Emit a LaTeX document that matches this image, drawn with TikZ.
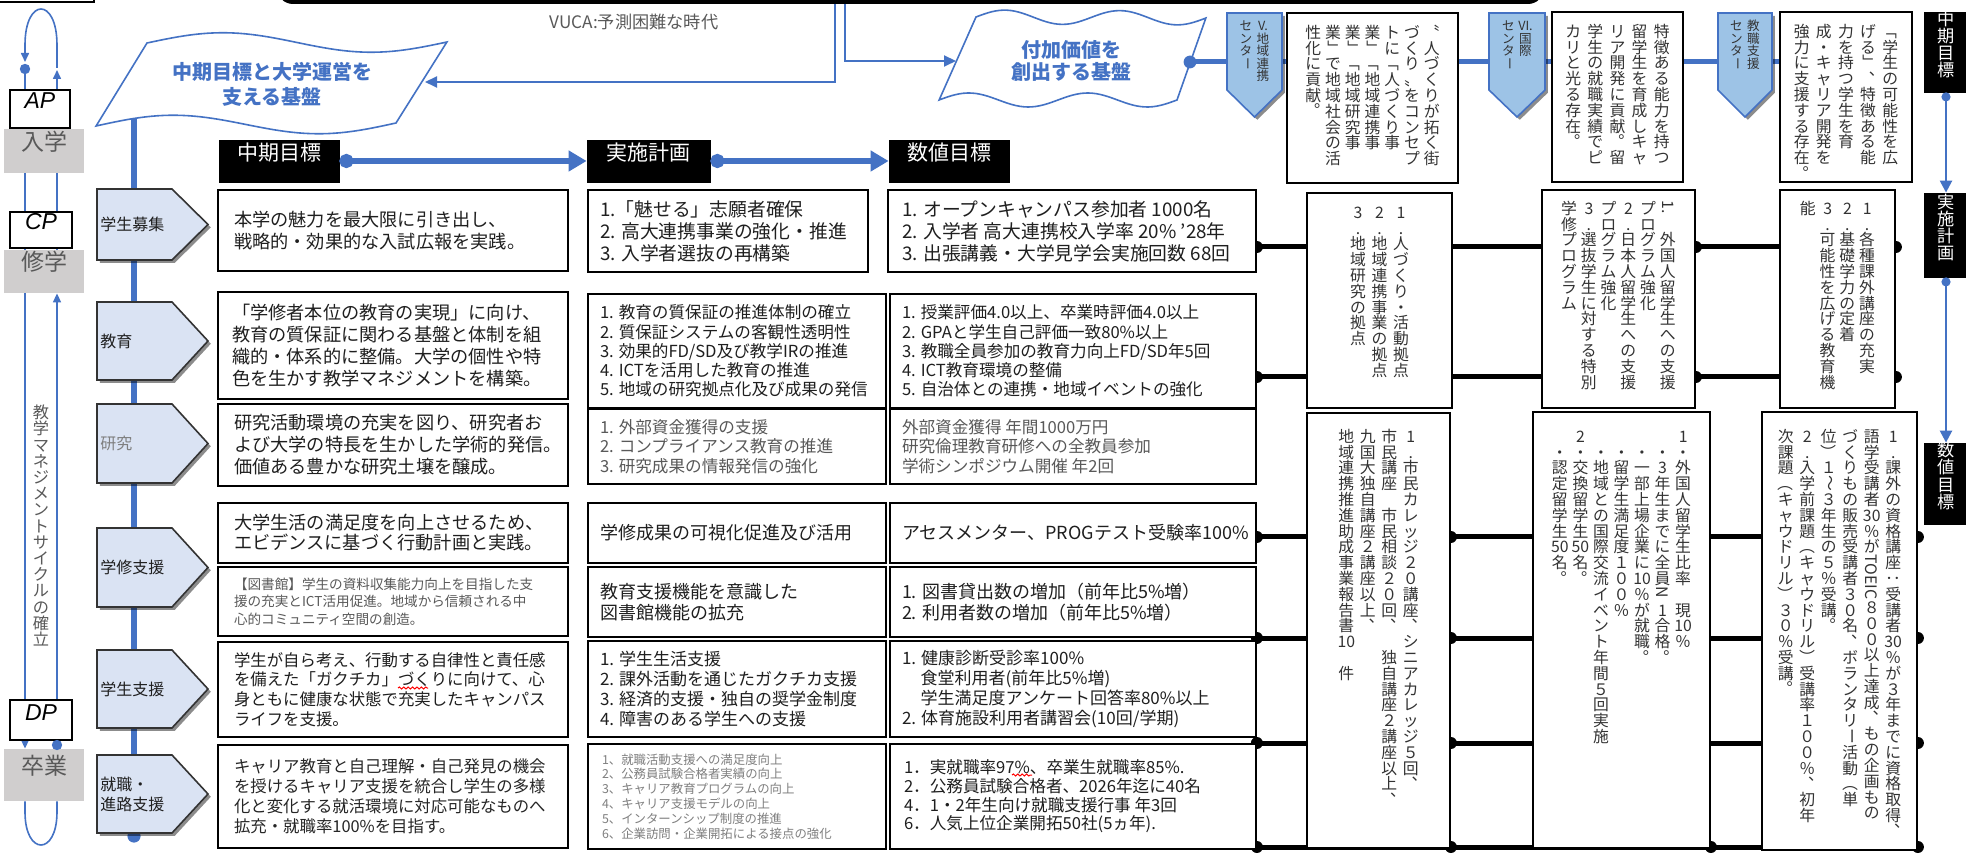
\documentclass[tikz,border=0pt]{standalone}
\usepackage{fontspec}
\setmainfont{Noto Sans CJK JP}
\newfontfamily\latf{Liberation Sans}
\usepackage{graphicx}
\usetikzlibrary{arrows.meta,shadows,fit,backgrounds,decorations.pathmorphing}

\definecolor{bl}{HTML}{4472C4}
\definecolor{pentfill}{HTML}{DAE3F3}
\definecolor{tpfill}{HTML}{9DC3E6}
\definecolor{gbox}{HTML}{D0CECE}
\definecolor{gtxt}{HTML}{595959}
\definecolor{ltxt}{HTML}{7F7F7F}
\definecolor{dtxt}{HTML}{1F1F1F}

\newcommand\fz[2]{\fontsize{#1pt}{#2pt}\selectfont}
\newcommand\vtstrut{\vrule height .88em depth .12em width 0pt}
\newcommand\vrt[1]{\raisebox{.88em}{\rotatebox{-90}{#1}}}
\newcommand\vpn[1]{\makebox[1em][l]{\raisebox{.6em}[0pt][0pt]{\kern.55em #1}}}
\newcommand\vLB{\vrt{「}}
\newcommand\vRB{\vrt{」}}
\newcommand\vLP{\vrt{（}}
\newcommand\vRP{\vrt{）}}
\newcommand\vCH{\vrt{ー}}
\newcommand\vCL{\vrt{：}}
\newcommand\vWV{\vrt{～}}
\newcommand\vTC{\vpn{、}}
\newcommand\vMR{\vpn{。}}

\ExplSyntaxOn
\tl_new:N \l_vtx_cols_tl
\cs_new_protected:Npn \vtx_cell:n #1
  { \hbox_to_wd:nn { 1em } { \hss \vtstrut #1 \hss } }
\cs_new_protected:Npn \vtx_col:n #1
  { \vbox_top:n { \offinterlineskip \tl_map_function:nN {#1} \vtx_cell:n } }
\NewDocumentCommand { \VT } { O{0.3em} m }
  {
    \tl_set:Nx \l_vtx_cols_tl { \tl_reverse_items:n {#2} }
    \hbox:n
      {
        \skip_horizontal:n { - #1 }
        \tl_map_inline:Nn \l_vtx_cols_tl
          { \skip_horizontal:n {#1} \vtx_col:n {##1} }
      }
  }
\ExplSyntaxOff

\newcommand\rowpent[4]{%
  \path[pent] (97,#2) -- (172,#2) -- (208,{(#2+#3)/2}) -- (172,#3) -- (97,#3) -- cycle;
  \node[plab] (#1) at (100,{(#2+#3)/2}) {#4};}
\newcommand\toppent[4]{%
  \path[tpent] (#2,13) -- (#3,13) -- (#3,90) -- ({(#2+#3)/2},117) -- (#2,90) -- cycle;
  \node[vt, font=\fz{6.3}{6.3}, text=black!80] (#1) at ({(#2+#3)/2},19) {\VT[0.35em]{#4}};}

\begin{document}
\begin{tikzpicture}[x=0.5pt,y=-0.5pt,
  box/.style={draw=black, line width=0.9pt, fill=white, inner sep=0pt},
  txt/.style={inner sep=0pt, outer sep=0pt, anchor=west, align=left, text=dtxt},
  hdr/.style={fill=black, draw=black, inner sep=0pt, text=white, font=\fz{10.5}{12}},
  gbx/.style={fill=gbox, draw=none, inner sep=0pt, text=gtxt, font=\fz{11.5}{13}},
  wbx/.style={draw=black, line width=0.9pt, fill=white, inner sep=0pt, font=\latf\itshape\fz{11.5}{13}},
  shd/.style={drop shadow={shadow xshift=1.4pt, shadow yshift=-1.4pt, opacity=0.45, fill=black}},
  pent/.style={draw=black!80, line width=0.8pt, fill=pentfill, shd},
  tpent/.style={draw=bl, line width=0.8pt, fill=tpfill, shd},
  plab/.style={inner sep=0pt, anchor=west, font=\fz{8}{10}, align=left, text=dtxt},
  flag/.style={draw=bl, line width=0.8pt, fill=white},
  flagtxt/.style={text=bl, font=\bfseries\fz{10}{12.5}, align=center, inner sep=0pt},
  bthin/.style={draw=bl, line width=1pt},
  conn/.style={draw=black, line width=2.5pt},
  cyc/.style={draw=bl, line width=0.8pt},
  ctip/.style={-{Triangle[length=4.5pt,width=4pt]}},
  vt/.style={inner sep=0pt, anchor=north, text=black!80, font=\fz{7.9}{7.9}},
  wavy/.style={draw=red, line width=0.5pt, decorate, decoration={snake, amplitude=0.5pt, segment length=2.2pt}},
]
\useasboundingbox (0,0) rectangle (1966,855);
\begin{scope}[on background layer]
  \fill[white] (-4,-4) rectangle (1970,859);
\end{scope}

% ---------- top bar, frame, VUCA
\fill[black, rounded corners=8pt] (277,-40) rectangle (1544,4);
\draw[black, line width=1.4pt] (-10,-30) rectangle (94,2);
\node[font=\fz{8.6}{9}, text=gtxt, inner sep=0pt] (vuca) at (634,22) {VUCA:予測困難な時代};
\coordinate (barA) at (835,4);
\coordinate (barB) at (845,4);

% ---------- flags
\path[flag] plot[domain=0:1,samples=50,variable=\t] ({147+300*\t},{43-\t-10*sin(360*\t)})
   -- plot[domain=1:0,samples=50,variable=\t] ({96+300*\t},{126-3*\t-10*sin(360*\t)}) -- cycle;
\node[flagtxt] (flagL) at (272,84) {中期目標と大学運営を\\支える基盤};
\path[flag] plot[domain=0:1,samples=60,variable=\t] ({976+230*\t},{17+\t-7*sin(720*\t)})
   -- plot[domain=1:0,samples=60,variable=\t] ({939+238*\t},{100-7*sin(720*\t)}) -- cycle;
\node[flagtxt, font=\bfseries\fz{10}{11}] (flagR) at (1071,61) {付加価値を\\創出する基盤};
\coordinate (fLin) at (425,82);
\coordinate (fRin) at (956,61);
\coordinate (fRout) at (1190,62);
\coordinate (poleTop) at (134,118);
\coordinate (poleEnd) at (134,836);
\draw[bthin, -{Triangle[length=6pt,width=5.5pt]}] (barA) |- (fLin);
\draw[bthin, -{Triangle[length=6pt,width=5.5pt]}] (barB) |- (fRin);
\fill[bl] (fRout) circle (3.2pt);

% ---------- column headers
\node[hdr, fit={(219,140) (339,182)}] (h1) {中期目標};
\node[hdr, fit={(587,140) (710,182)}] (h2) {実施計画};
\node[hdr, fit={(889,140) (1009,182)}] (h3) {数値目標};
\draw[bl, line width=3pt, {Circle[length=7pt]}-{Triangle[length=9pt,width=10pt]}] (h1.east) -- (h2.west);
\draw[bl, line width=3pt, {Circle[length=7pt]}-{Triangle[length=9pt,width=10pt]}] (h2.east) -- (h3.west);

% ---------- row labels
\rowpent{p1}{189}{260}{学生募集}
\rowpent{p2}{302}{380}{教育}
\rowpent{p3}{404}{483}{\textcolor{ltxt}{研究}}
\rowpent{p4}{528}{607}{学修支援}
\rowpent{p5}{650}{728}{学生支援}
\rowpent{p6}{755}{833}{就職・\\進路支援}

% ---------- column 1 (中期目標)
\node[box, fit={(218,190) (568,271)}] (c1r1) {};
\node[box, fit={(218,292) (568,399)}] (c1r2) {};
\node[box, fit={(218,404) (568,486)}] (c1r3) {};
\node[box, fit={(218,503) (568,563)}] (c1r4a) {};
\node[box, fit={(218,567) (568,636)}] (c1r4b) {};
\node[box, fit={(218,642) (568,737)}] (c1r5) {};
\node[box, fit={(218,745) (568,848)}] (c1r6) {};
\node[txt, font=\fz{9.1}{11}] (t1r1) at (234,230.5) {本学の魅力を最大限に引き出し、\\戦略的・効果的な入試広報を実践。};
\node[txt, font=\fz{9.1}{10.9}] (t1r2) at (232,345.5) {「学修者本位の教育の実現」に向け、\\教育の質保証に関わる基盤と体制を組\\織的・体系的に整備。大学の個性や特\\色を生かす教学マネジメントを構築。};
\node[txt, font=\fz{9.1}{11}] (t1r3) at (234,445) {研究活動環境の充実を図り、研究者お\\よび大学の特長を生かした学術的発信。\\価値ある豊かな研究土壌を醸成。};
\node[txt, font=\fz{9.1}{10}] (t1r4a) at (234,533) {大学生活の満足度を向上させるため、\\エビデンスに基づく行動計画と実践。};
\node[txt, font=\fz{6.8}{8.8}, text=gtxt] (t1r4b) at (234,601.5) {【図書館】学生の資料収集能力向上を目指した支\\援の充実とICT活用促進。地域から信頼される中\\心的コミュニティ空間の創造。};
\node[txt, font=\fz{8.2}{9.8}] (t1r5) at (234,689.5) {学生が自ら考え、行動する自律性と責任感\\を備えた「ガクチカ」づくりに向けて、心\\身ともに健康な状態で充実したキャンパス\\ライフを支援。};
\node[txt, font=\fz{8.2}{10}, text=black!85] (t1r6) at (234,796.5) {キャリア教育と自己理解・自己発見の機会\\を授けるキャリア支援を統合し学生の多様\\化と変化する就活環境に対応可能なものへ\\拡充・就職率100\%を目指す。};

% ---------- column 2 (実施計画)
\node[box, fit={(588,190) (868,272)}] (c2r1) {};
\node[box, fit={(588,294) (886,408)}] (c2r2) {};
\node[box, fit={(588,409) (886,484)}] (c2r3) {};
\node[box, fit={(588,503) (886,563)}] (c2r4a) {};
\node[box, fit={(588,567) (886,637)}] (c2r4b) {};
\node[box, fit={(588,641) (886,737)}] (c2r5) {};
\node[box, fit={(588,744) (886,849)}] (c2r6) {};
\node[txt, font=\fz{9.4}{11}] (t2r1) at (600,231) {1.「魅せる」志願者確保\\2. 高大連携事業の強化・推進\\3. 入学者選抜の再構築};
\node[txt, font=\fz{8.3}{9.6}] (t2r2) at (600,351) {1. 教育の質保証の推進体制の確立\\2. 質保証システムの客観性透明性\\3. 効果的FD/SD及び教学IRの推進\\4. ICTを活用した教育の推進\\5. 地域の研究拠点化及び成果の発信};
\node[txt, font=\fz{8.3}{9.8}, text=gtxt] (t2r3) at (600,446.5) {1. 外部資金獲得の支援\\2. コンプライアンス教育の推進\\3. 研究成果の情報発信の強化};
\node[txt, font=\fz{9}{10}] (t2r4a) at (600,533) {学修成果の可視化促進及び活用};
\node[txt, font=\fz{9}{10.5}] (t2r4b) at (600,602) {教育支援機能を意識した\\図書館機能の拡充};
\node[txt, font=\fz{8.5}{10}] (t2r5) at (600,689) {1. 学生生活支援\\2. 課外活動を通じたガクチカ支援\\3. 経済的支援・独自の奨学金制度\\4. 障害のある学生への支援};
\node[txt, font=\fz{6.2}{7.4}, text=ltxt] (t2r6) at (602,796.5) {1、就職活動支援への満足度向上\\2、公務員試験合格者実績の向上\\3、キャリア教育プログラムの向上\\4、キャリア支援モデルの向上\\5、インターンシップ制度の推進\\6、企業訪問・企業開拓による接点の強化};

% ---------- column 3 (数値目標)
\node[box, fit={(888,190) (1256,272)}] (c3r1) {};
\node[box, fit={(890,294) (1256,408)}] (c3r2) {};
\node[box, fit={(890,409) (1256,484)}] (c3r3) {};
\node[box, fit={(890,503) (1256,563)}] (c3r4a) {};
\node[box, fit={(890,567) (1256,637)}] (c3r4b) {};
\node[box, fit={(890,641) (1256,737)}] (c3r5) {};
\node[box, fit={(890,744) (1256,849)}] (c3r6) {};
\node[txt, font=\fz{9.4}{11}] (t3r1) at (902,231) {1. オープンキャンパス参加者 1000名\\2. 入学者 高大連携校入学率 20\% '28年\\3. 出張講義・大学見学会実施回数 68回};
\node[txt, font=\fz{8.3}{9.6}] (t3r2) at (902,351) {1. 授業評価4.0以上、卒業時評価4.0以上\\2. GPAと学生自己評価一致80\%以上\\3. 教職全員参加の教育力向上FD/SD年5回\\4. ICT教育環境の整備\\5. 自治体との連携・地域イベントの強化};
\node[txt, font=\fz{8.3}{9.8}, text=gtxt] (t3r3) at (902,446.5) {外部資金獲得 年間1000万円\\研究倫理教育研修への全教員参加\\学術シンポジウム開催 年2回};
\node[txt, font=\fz{9}{10}] (t3r4a) at (902,533) {アセスメンター、PROGテスト受験率100\%};
\node[txt, font=\fz{9}{10.5}] (t3r4b) at (902,602) {1. 図書貸出数の増加（前年比5\%増）\\2. 利用者数の増加（前年比5\%増）};
\node[txt, font=\fz{8.5}{10}] (t3r5) at (902,689) {1. 健康診断受診率100\%\\\hspace*{1.1em}食堂利用者(前年比5\%増)\\\hspace*{1.1em}学生満足度アンケート回答率80\%以上\\2. 体育施設利用者講習会(10回/学期)};
\node[txt, font=\fz{8.3}{9.3}] (t3r6) at (904,796.5) {1．実就職率97\%、卒業生就職率85\%.\\2．公務員試験合格者、2026年迄に40名\\4．1・2年生向け就職支援行事 年3回\\6．人気上位企業開拓50社(5ヵ年).};
\draw[wavy] (398,688) -- (428,688);
\draw[wavy] (1012,775) -- (1032,775);

% ---------- left cycle column
\coordinate (xL) at (25,0);
\coordinate (xR) at (57,0);
\node[wbx, fit={(10,90) (70,128)}] (AP) {AP};
\node[gbx, fit={(4,129) (84,173)}] (nyu) {入学};
\node[wbx, fit={(10,212) (72,248)}] (CP) {CP};
\node[gbx, fit={(4,250) (84,293)}] (shu) {修学};
\node[wbx, fit={(10,700) (72,740)}] (DP) {DP};
\node[gbx, fit={(4,749) (84,801)}] (sotsu) {卒業};
\node[vt, font=\fz{8.1}{8.1}, text=gtxt] (cycT) at (41,404) {\VT{{教学マネジメントサイクルの確立}}};
\draw[cyc, ctip] (57,68) -- (57,45) .. controls (57,-3) and (25,-3) .. (25,45) -- (25,62);
\fill[bl] (25,69) circle (2.6pt);
\fill[bl] (57,745) circle (2.6pt);

% ---------- top right: centres and boxes
\node[box, fit={(1287,13) (1458,183)}] (T1) {};
\node[box, fit={(1552,12) (1683,182)}] (T2) {};
\node[box, fit={(1780,12) (1912,182)}] (T3) {};
\toppent{pV}{1227}{1282}{{{V.}地域連携}{センタ\vCH}}
\toppent{pVI}{1489}{1545}{{{VI.}国際}{センタ\vCH}}
\toppent{pK}{1718}{1772}{{教職支援}{センタ\vCH}}
\node[vt] (T1x) at (1372.5,24) {\VT[0.25em]{{〝人づくりが拓く街}{づくり〟をコンセプ}{トに\vLB 人づくり事}{業\vRB\vLB 地域連携事}{業\vRB\vLB 地域研究事}{業\vRB で地域社会の活}{性化に貢献\vMR}}};
\node[vt] (T2x) at (1617.5,23) {\VT[0.4em]{{特徴ある能力を持つ}{留学生を育成しキャ}{リア開発に貢献\vMR 留}{学生の就職実績でピ}{カリと光る存在\vMR}}};
\node[vt] (T3x) at (1846,23) {\VT[0.4em]{{\vLB 学生の可能性を広}{げる\vRB\vTC 特徴ある能}{力を持つ学生を育}{成・キャリア開発を}{強力に支援する存在\vMR}}};

% ---------- right boxes
\node[box, fit={(1307,193) (1452,408)}] (R1t) {};
\node[box, fit={(1307,413) (1450,848)}] (R1b) {};
\node[box, fit={(1542,190) (1695,408)}] (R2t) {};
\node[box, fit={(1533,412) (1710,848)}] (R2b) {};
\node[box, fit={(1780,190) (1895,408)}] (R3t) {};
\node[box, fit={(1762,412) (1917,850)}] (R3b) {};
\node[vt] (R1tx) at (1379.5,204) {\VT[0.36em]{{1.人づくり・活動拠点}{2.地域連携事業の拠点}{3.地域研究の拠点}}};
\node[vt] (R1bx) at (1378.5,428) {\VT[0.36em]{{1.市民カレッジ２０講座\vTC シニアカレッジ５回\vTC}{市民講座{}市民相談２０回\vTC{}独自講座２講座以上\vTC}{九国大独自講座２講座以上\vTC}{地域連携推進助成事業報告書{10}{}件}}};
\node[vt] (R2tx) at (1618.5,200) {\VT[0.25em]{{{\vrt{1.}}{}外国人留学生への支援}{プログラム強化}{2.日本人留学生への支援}{プログラム強化}{3.選抜学生に対する特別}{学修プログラム}}};
\node[vt] (R2bx) at (1621.5,428) {\VT[0.3em]{{1・外国人留学生比率{}現{10}％}{{}・3年生までに全員{\vrt{N}}1合格\vMR}{{}・一部上場企業に{10}％が就職\vMR}{{}・留学生満足度１００％}{{}・地域との国際交流イベント年間５回実施}{2・交換留学生{50}名\vMR}{{}・認定留学生{50}名\vMR}}};
\node[vt] (R3tx) at (1837.5,200) {\VT[0.25em]{{1.各種課外講座の充実}{2.基礎学力の定着}{3.可能性を広げる教育機}{能}}};
\node[vt] (R3bx) at (1839.5,428) {\VT[0.36em]{{1.課外の資格講座\vCL 受講者{30}％が３年までに資格取得\vTC}{語学受講者{30}％が{\vrt{TOEIC}}８００以上達成\vTC もの企画もの}{づくりもの販売受講者３０名\vTC ボランタリ\vCH 活動\vLP 単}{位\vRP １\vWV ３年生の５％受講\vMR}{2.入学前課題\vLP キャウドリル\vRP 受講率１００％\vTC 初年}{次課題\vLP キャウドリル\vRP ３０％受講\vMR}}};

% ---------- far-right labels
\node[hdr, font=\fz{8.6}{8.6}, fit={(1924,12) (1968,92)}] (rh1) {\VT{{中期目標}}};
\node[hdr, font=\fz{8.6}{8.6}, fit={(1924,193) (1968,277)}] (rh2) {\VT{{実施計画}}};
\node[hdr, font=\fz{8.6}{8.6}, fit={(1924,443) (1968,524)}] (rh3) {\VT{{数値目標}}};
\draw[bl, line width=1.2pt, {Circle[length=4.5pt]}-{Triangle[length=6pt,width=6pt]}] (rh1.south) -- (rh2.north);
\draw[bl, line width=1.2pt, {Circle[length=4.5pt]}-{Triangle[length=6pt,width=6pt]}] (rh2.south) -- (rh3.north);

% ---------- connectors behind
\coordinate (L1) at (0,247);
\coordinate (L2) at (0,377);
\coordinate (L3) at (0,537);
\coordinate (L4) at (0,638);
\coordinate (L5) at (0,743);
\coordinate (L6) at (0,847);
\begin{scope}[on background layer]
  \draw[bl, line width=2.5pt] (fRout) -- (T3.west |- fRout);
  \draw[bl, line width=2.6pt] (poleTop) -- (poleEnd);
  \fill[bl] (poleEnd) circle (3.3pt);
  \draw[cyc, ctip] (25,69) -- (sotsu.north -| xL);
  \draw[cyc] (sotsu.south -| xL) -- (25,812) .. controls (25,856) and (57,856) .. (57,812) -- (sotsu.south -| xR);
  \draw[cyc, ctip] (57,745) -- (shu.south -| xR);
  \draw[cyc, ctip] (shu.north -| xR) -- (57,70);
  \foreach \L/\A/\B in {L1/c3r1/R3t,L2/c3r2/R3t,L3/c3r4a/R3b,L4/c3r4b/R3b,L5/c3r5/R3b,L6/c3r6/R3b}{
    \draw[conn] (\A.east |- \L) -- (\B.east |- \L);
    \fill (\A.east |- \L) circle (3pt);
    \fill (\B.east |- \L) circle (3pt);
  }
  \foreach \L in {L3,L4,L5,L6} \fill (R1b.east |- \L) circle (3pt);
  \foreach \L in {L1,L2} \fill (R2t.east |- \L) circle (3pt);
  \fill (R2b.east |- L6) circle (3pt);
\end{scope}
\end{tikzpicture}
\end{document}
